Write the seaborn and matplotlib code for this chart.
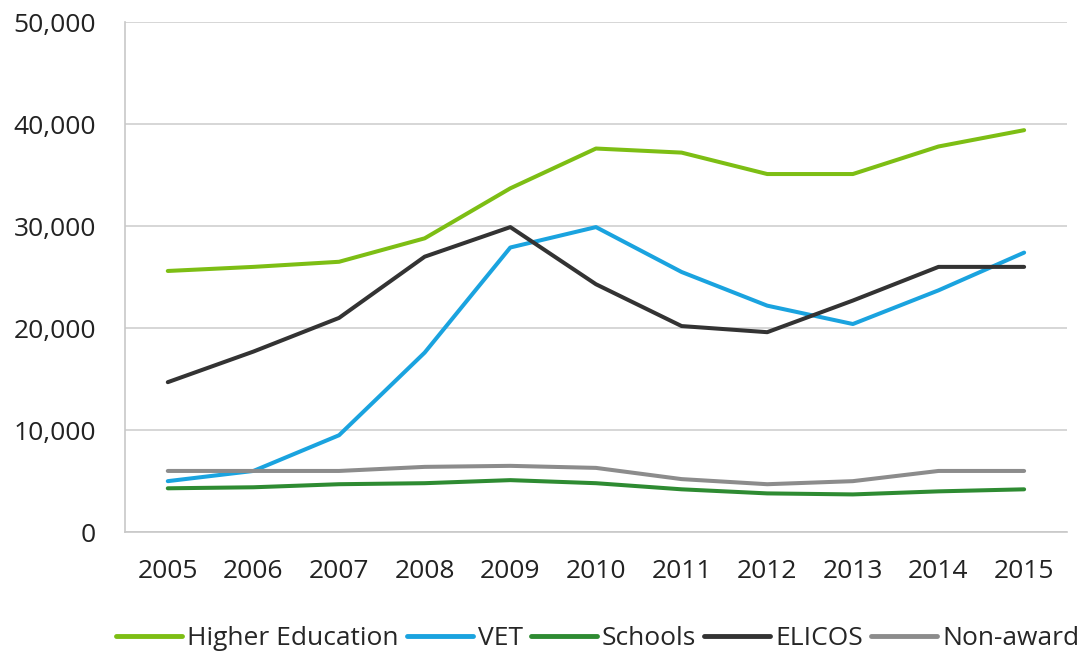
import pandas as pd
import seaborn as sns
import matplotlib.pyplot as plt
from matplotlib.ticker import FuncFormatter, MultipleLocator

years = list(range(2005, 2016))
higher_education = [25600, 26000, 26500, 28800, 33700, 37600, 37200, 35100, 35100, 37800, 39400]
vet = [5000, 6000, 9500, 17600, 27900, 29900, 25500, 22200, 20400, 23700, 27400]
schools = [4300, 4400, 4700, 4800, 5100, 4800, 4200, 3800, 3700, 4000, 4200]
elicos = [14700, 17700, 21000, 27000, 29900, 24300, 20200, 19600, 22700, 26000, 26000]
non_award = [6000, 6000, 6000, 6400, 6500, 6300, 5200, 4700, 5000, 6000, 6000]

sectors = ['Higher Education', 'VET', 'Schools', 'ELICOS', 'Non-award']
colors = ['#7DBE14', '#1AA3DF', '#2E8B32', '#333333', '#8C8C8C']

# long-form table for seaborn
df = pd.concat([
    pd.DataFrame({'Year': years, 'Students': vals, 'Sector': name})
    for name, vals in zip(sectors, [higher_education, vet, schools, elicos, non_award])
])

sns.set_style('white')
plt.rcParams['font.family'] = ['Open Sans', 'DejaVu Sans']

fig = plt.figure(figsize=(10.81, 6.57), dpi=100)
ax = fig.add_axes([0.1156, 0.190, 0.8714, 0.7765])

sns.lineplot(data=df, x='Year', y='Students', hue='Sector', hue_order=sectors,
             palette=colors, linewidth=2.9, ax=ax, legend=False)

ax.set_xlim(2004.5, 2015.5)
ax.set_ylim(0, 50000)
ax.yaxis.set_major_locator(MultipleLocator(10000))
ax.yaxis.set_major_formatter(FuncFormatter(lambda v, p: f'{int(v):,}'))
ax.set_xticks(years)
ax.set_xticks([y - 0.5 for y in years] + [2015.5], minor=True)
ax.grid(axis='y', color='#D0D0D0', linewidth=1.2)
ax.set_axisbelow(True)

for s in ['top', 'right']:
    ax.spines[s].set_visible(False)
for s in ['left', 'bottom']:
    ax.spines[s].set_color('#C8C8C8')
    ax.spines[s].set_linewidth(1.2)

ax.tick_params(axis='x', which='major', length=0, pad=19, labelsize=19, colors='#222222')
ax.tick_params(axis='x', which='minor', length=7, width=1.2, color='#C8C8C8', direction='out')
ax.tick_params(axis='y', length=7, width=1.2, color='#C8C8C8', pad=14, labelsize=19, labelcolor='#222222')
ax.set_xlabel('')
ax.set_ylabel('')

handles = [plt.Line2D([], [], color=c, linewidth=3.5) for c in colors]
fig.legend(handles, sectors, loc='center', bbox_to_anchor=(0.553, 0.028), ncol=5,
           frameon=False, fontsize=19, handlelength=2.5, handletextpad=0.2,
           columnspacing=0.3)

fig.savefig('out.png', dpi=100)
